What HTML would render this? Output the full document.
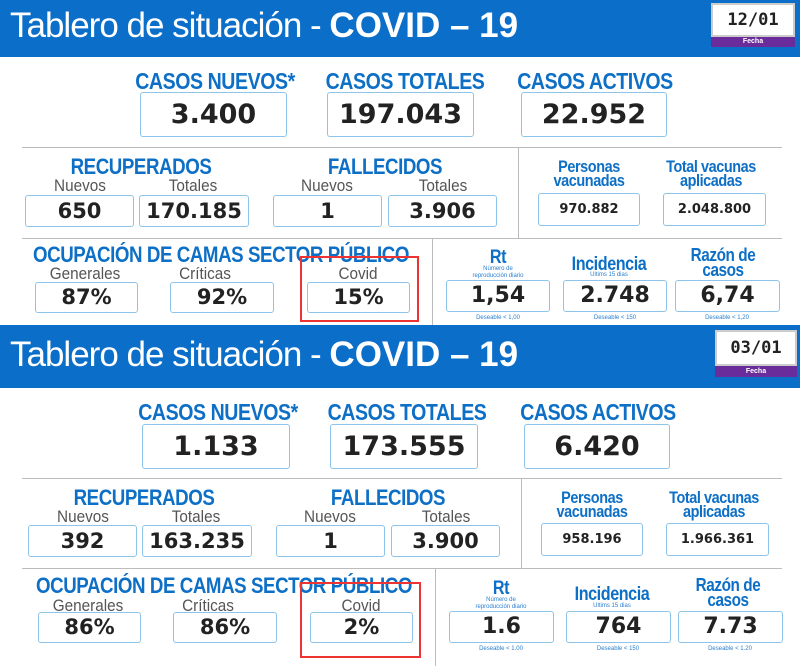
<!DOCTYPE html>
<html><head><meta charset="utf-8"><style>
body{margin:0;width:800px;height:666px;background:#fff;position:relative;overflow:hidden;font-family:"Liberation Sans",sans-serif}
.p{position:absolute;left:0;width:800px}
.a{position:absolute;white-space:nowrap}
.bn{position:absolute;left:0;width:800px;background:#0b6fc9}
.ti{position:absolute;left:10px;color:#fff;font-size:35px;font-weight:300;letter-spacing:-1px}
.ti b{font-weight:900;letter-spacing:0}
.db{position:absolute;background:#fff;border:2px solid #ccc;box-sizing:border-box;text-align:center;font-family:"DejaVu Sans Mono",monospace;font-weight:bold;font-size:17px;color:#222}
.pu{position:absolute;background:#6a2c9a;color:#fff;font-size:7px;text-align:center;font-weight:bold}
.h{position:absolute;width:240px;text-align:center;color:#0d6fc6;font-weight:900;transform:scaleX(.85);letter-spacing:-0.5px}
.s{position:absolute;width:160px;text-align:center;color:#555;font-size:17px;transform:scaleX(.9)}
.bx{position:absolute;border:1.5px solid #8cc4ea;border-radius:3px;box-sizing:border-box;text-align:center;font-family:"DejaVu Sans",sans-serif;font-weight:bold;color:#222}
.ln{position:absolute;background:#bbb}
.tiny{position:absolute;width:140px;text-align:center;color:#2a7fd0;font-size:6px;line-height:7px}
.red{position:absolute;border:2px solid #e33;box-sizing:border-box}
</style></head><body>

<!-- PANEL 1 -->
<div class="p" style="top:0;height:325px">
<div class="bn" style="top:0;height:57px"></div>
<div class="ti" style="top:6px">Tablero de situación - <b>COVID – 19</b></div>
<div class="db" style="left:711px;top:3px;width:84px;height:34px;line-height:30px">12/01</div>
<div class="pu" style="left:711px;top:37px;width:84px;height:10px;line-height:10px">Fecha</div>

<div class="h" style="left:95px;top:68px;font-size:23px">CASOS NUEVOS*</div>
<div class="h" style="left:285px;top:68px;font-size:23px">CASOS TOTALES</div>
<div class="h" style="left:475px;top:68px;font-size:23px">CASOS ACTIVOS</div>
<div class="bx" style="left:140px;top:92px;width:147px;height:45px;line-height:43px;font-size:27px">3.400</div>
<div class="bx" style="left:327px;top:92px;width:147px;height:45px;line-height:43px;font-size:27px">197.043</div>
<div class="bx" style="left:521px;top:92px;width:146px;height:45px;line-height:43px;font-size:27px">22.952</div>

<div class="ln" style="left:22px;top:147px;width:760px;height:1px"></div>
<div class="ln" style="left:518px;top:147px;width:1px;height:91px"></div>

<div class="h" style="left:21px;top:154px;font-size:22px">RECUPERADOS</div>
<div class="s" style="left:0px;top:176px">Nuevos</div>
<div class="s" style="left:113px;top:176px">Totales</div>
<div class="bx" style="left:25px;top:195px;width:109px;height:32px;line-height:30px;font-size:21px">650</div>
<div class="bx" style="left:139px;top:195px;width:110px;height:32px;line-height:30px;font-size:21px">170.185</div>
<div class="h" style="left:265px;top:154px;font-size:22px">FALLECIDOS</div>
<div class="s" style="left:247px;top:176px">Nuevos</div>
<div class="s" style="left:363px;top:176px">Totales</div>
<div class="bx" style="left:273px;top:195px;width:109px;height:32px;line-height:30px;font-size:21px">1</div>
<div class="bx" style="left:388px;top:195px;width:109px;height:32px;line-height:30px;font-size:21px">3.906</div>

<div class="h" style="left:469px;top:160px;font-size:17px;line-height:14px">Personas<br>vacunadas</div>
<div class="h" style="left:591px;top:160px;font-size:17px;line-height:14px">Total vacunas<br>aplicadas</div>
<div class="bx" style="left:538px;top:193px;width:102px;height:33px;line-height:31px;font-size:13px">970.882</div>
<div class="bx" style="left:663px;top:193px;width:103px;height:33px;line-height:31px;font-size:13px">2.048.800</div>

<div class="ln" style="left:22px;top:238px;width:760px;height:1px"></div>
<div class="ln" style="left:432px;top:238px;width:1px;height:87px"></div>

<div class="h" style="left:-14px;top:242px;width:470px;font-size:22px">OCUPACIÓN DE CAMAS SECTOR PÚBLICO</div>
<div class="s" style="left:5px;top:264px">Generales</div>
<div class="s" style="left:125px;top:264px">Críticas</div>
<div class="s" style="left:278px;top:264px">Covid</div>
<div class="bx" style="left:35px;top:282px;width:103px;height:31px;line-height:29px;font-size:21px">87%</div>
<div class="bx" style="left:170px;top:282px;width:104px;height:31px;line-height:29px;font-size:21px">92%</div>
<div class="bx" style="left:307px;top:282px;width:103px;height:31px;line-height:29px;font-size:21px">15%</div>
<div class="red" style="left:300px;top:256px;width:119px;height:66px"></div>

<div class="h" style="left:378px;top:247px;font-size:19px">Rt</div>
<div class="tiny" style="left:428px;top:266px">Número de<br>reproducción diario</div>
<div class="h" style="left:489px;top:254px;font-size:19px">Incidencia</div>
<div class="tiny" style="left:539px;top:272px">Ultims 15 dias</div>
<div class="h" style="left:603px;top:248px;font-size:18px;line-height:15px">Razón de<br>casos</div>
<div class="bx" style="left:446px;top:280px;width:104px;height:32px;line-height:30px;font-size:22px">1,54</div>
<div class="bx" style="left:563px;top:280px;width:104px;height:32px;line-height:30px;font-size:22px">2.748</div>
<div class="bx" style="left:675px;top:280px;width:105px;height:32px;line-height:30px;font-size:22px">6,74</div>
<div class="tiny" style="left:428px;top:315px">Deseable &lt; 1,00</div>
<div class="tiny" style="left:545px;top:315px">Deseable &lt; 150</div>
<div class="tiny" style="left:657px;top:315px">Deseable &lt; 1,20</div>
</div>

<!-- PANEL 2 -->
<div class="p" style="top:325px;height:341px">
<div class="bn" style="top:0;height:63px"></div>
<div class="ti" style="top:10px">Tablero de situación - <b>COVID – 19</b></div>
<div class="db" style="left:715px;top:5px;width:82px;height:36px;line-height:32px">03/01</div>
<div class="pu" style="left:715px;top:41px;width:82px;height:11px;line-height:11px">Fecha</div>

<div class="h" style="left:98px;top:74px;font-size:23px">CASOS NUEVOS*</div>
<div class="h" style="left:287px;top:74px;font-size:23px">CASOS TOTALES</div>
<div class="h" style="left:478px;top:74px;font-size:23px">CASOS ACTIVOS</div>
<div class="bx" style="left:142px;top:99px;width:148px;height:45px;line-height:43px;font-size:27px">1.133</div>
<div class="bx" style="left:330px;top:99px;width:148px;height:45px;line-height:43px;font-size:27px">173.555</div>
<div class="bx" style="left:524px;top:99px;width:146px;height:45px;line-height:43px;font-size:27px">6.420</div>

<div class="ln" style="left:22px;top:153px;width:760px;height:1px"></div>
<div class="ln" style="left:521px;top:153px;width:1px;height:90px"></div>

<div class="h" style="left:24px;top:160px;font-size:22px">RECUPERADOS</div>
<div class="s" style="left:3px;top:182px">Nuevos</div>
<div class="s" style="left:116px;top:182px">Totales</div>
<div class="bx" style="left:28px;top:200px;width:109px;height:32px;line-height:30px;font-size:21px">392</div>
<div class="bx" style="left:142px;top:200px;width:110px;height:32px;line-height:30px;font-size:21px">163.235</div>
<div class="h" style="left:268px;top:160px;font-size:22px">FALLECIDOS</div>
<div class="s" style="left:250px;top:182px">Nuevos</div>
<div class="s" style="left:366px;top:182px">Totales</div>
<div class="bx" style="left:276px;top:200px;width:109px;height:32px;line-height:30px;font-size:21px">1</div>
<div class="bx" style="left:391px;top:200px;width:109px;height:32px;line-height:30px;font-size:21px">3.900</div>

<div class="h" style="left:472px;top:166px;font-size:17px;line-height:14px">Personas<br>vacunadas</div>
<div class="h" style="left:594px;top:166px;font-size:17px;line-height:14px">Total vacunas<br>aplicadas</div>
<div class="bx" style="left:541px;top:198px;width:102px;height:33px;line-height:31px;font-size:13px">958.196</div>
<div class="bx" style="left:666px;top:198px;width:103px;height:33px;line-height:31px;font-size:13px">1.966.361</div>

<div class="ln" style="left:22px;top:243px;width:760px;height:1px"></div>
<div class="ln" style="left:435px;top:243px;width:1px;height:98px"></div>

<div class="h" style="left:-11px;top:248px;width:470px;font-size:22px">OCUPACIÓN DE CAMAS SECTOR PÚBLICO</div>
<div class="s" style="left:8px;top:271px">Generales</div>
<div class="s" style="left:128px;top:271px">Críticas</div>
<div class="s" style="left:281px;top:271px">Covid</div>
<div class="bx" style="left:38px;top:287px;width:103px;height:31px;line-height:29px;font-size:21px">86%</div>
<div class="bx" style="left:173px;top:287px;width:104px;height:31px;line-height:29px;font-size:21px">86%</div>
<div class="bx" style="left:310px;top:287px;width:103px;height:31px;line-height:29px;font-size:21px">2%</div>
<div class="red" style="left:300px;top:257px;width:121px;height:76px"></div>

<div class="h" style="left:381px;top:253px;font-size:19px">Rt</div>
<div class="tiny" style="left:431px;top:272px">Número de<br>reproducción diario</div>
<div class="h" style="left:492px;top:259px;font-size:19px">Incidencia</div>
<div class="tiny" style="left:542px;top:278px">Ultims 15 dias</div>
<div class="h" style="left:608px;top:253px;font-size:18px;line-height:15px">Razón de<br>casos</div>
<div class="bx" style="left:449px;top:286px;width:105px;height:32px;line-height:30px;font-size:22px">1.6</div>
<div class="bx" style="left:566px;top:286px;width:105px;height:32px;line-height:30px;font-size:22px">764</div>
<div class="bx" style="left:678px;top:286px;width:105px;height:32px;line-height:30px;font-size:22px">7.73</div>
<div class="tiny" style="left:431px;top:321px">Deseable &lt; 1.00</div>
<div class="tiny" style="left:548px;top:321px">Deseable &lt; 150</div>
<div class="tiny" style="left:660px;top:321px">Deseable &lt; 1.20</div>
</div>
</body></html>
